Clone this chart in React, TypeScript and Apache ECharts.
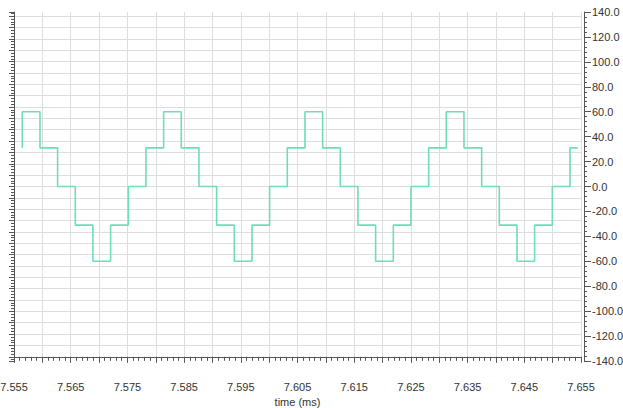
import React, { useEffect, useRef } from "react";
import * as echarts from "echarts";

// Sample-and-hold waveform: each sample time starts a new held level (ms, value)
const sampleTimes = [
  7.55646, 7.55646, 7.55958, 7.56269, 7.56581, 7.56892, 7.57204, 7.57516, 7.57827,
  7.58139, 7.5845, 7.58762, 7.59074, 7.59385, 7.59697, 7.60008, 7.6032,
  7.60632, 7.60943, 7.61255, 7.61566, 7.61878, 7.6219, 7.62501, 7.62813,
  7.63124, 7.63436, 7.63748, 7.64059, 7.64371, 7.64682, 7.64994, 7.65306,
  7.65442,
];
const sampleValues = [
  31, 60, 31, 0, -31, -60, -31, 0, 31,
  60, 31, 0, -31, -60, -31, 0, 31,
  60, 31, 0, -31, -60, -31, 0, 31,
  60, 31, 0, -31, -60, -31, 0, 31,
  31,
];

// Axis ranges and tick spacing
const timeRange = [7.555, 7.655];
const timeTickStep = 0.005;
const valueRange = [-140, 140];
const valueTickStep = 20;
// Unlabelled left ruler that carries the horizontal grid
const rulerRange = [-0.37, 30.37];
const rulerTickStep = 1;

const axisColor = "#555";
const textColor = "#333";
const gridColor = "#dedede";
const fontFamily = "'Liberation Sans', Arial, sans-serif";

export default function App() {
  const ref = useRef<HTMLDivElement>(null);

  useEffect(() => {
    if (!ref.current) return;
    const chart = echarts.init(ref.current, null, { renderer: "svg" });
    const data = sampleTimes.map((t, i) => [t, sampleValues[i]]);

    chart.setOption({
      animation: false,
      backgroundColor: "#fff",
      textStyle: { fontFamily },
      grid: {
        left: 14,
        right: 42,
        top: 12,
        bottom: 47,
        containLabel: false,
        outerBoundsMode: "none",
      },
      xAxis: {
        type: "value",
        min: timeRange[0],
        max: timeRange[1],
        interval: timeTickStep,
        position: "bottom",
        offset: 7,
        name: "time (ms)",
        nameLocation: "middle",
        nameGap: 28,
        nameTextStyle: { color: textColor, fontSize: 11, fontFamily },
        axisLine: { show: true, lineStyle: { color: axisColor, width: 1 } },
        axisTick: { show: true, inside: false, length: 6, lineStyle: { color: axisColor } },
        minorTick: { show: true, splitNumber: 5, length: 4, lineStyle: { color: axisColor } },
        axisLabel: {
          color: textColor,
          fontSize: 11,
          fontFamily,
          margin: 13,
          formatter: (v: number) =>
            Math.round(v * 1000) % 10 === 5 ? v.toFixed(3) : "",
        },
        splitLine: { show: true, lineStyle: { color: gridColor, width: 1 } },
      },
      yAxis: [
        {
          type: "value",
          position: "left",
          min: rulerRange[0],
          max: rulerRange[1],
          splitNumber: 30,
          minInterval: rulerTickStep,
          maxInterval: rulerTickStep,
          offset: 0,
          axisLine: { show: true, lineStyle: { color: axisColor, width: 1 } },
          axisTick: { show: true, inside: false, length: 5, lineStyle: { color: axisColor } },
          minorTick: { show: true, splitNumber: 4, length: 3, lineStyle: { color: axisColor } },
          axisLabel: { show: false },
          splitLine: {
            show: true,
            showMinLine: false,
            showMaxLine: false,
            lineStyle: { color: gridColor, width: 1 },
          },
        },
        {
          type: "value",
          position: "right",
          min: valueRange[0],
          max: valueRange[1],
          interval: valueTickStep,
          offset: 3,
          axisLine: { show: true, lineStyle: { color: axisColor, width: 1 } },
          axisTick: { show: true, inside: false, length: 7, lineStyle: { color: axisColor } },
          minorTick: { show: true, splitNumber: 5, length: 3, lineStyle: { color: axisColor } },
          axisLabel: {
            color: textColor,
            fontSize: 11,
            fontFamily,
            margin: 8,
            formatter: (v: number) => v.toFixed(1),
          },
          splitLine: { show: false },
        },
      ],
      series: [
        {
          type: "line",
          xAxisIndex: 0,
          yAxisIndex: 1,
          step: "end",
          data,
          showSymbol: false,
          symbol: "none",
          silent: true,
          lineStyle: { color: "#70dcb8", width: 1.6 },
        },
      ],
    });

    return () => chart.dispose();
  }, []);

  return (
    <div
      ref={ref}
      style={{
        position: "fixed",
        left: 0,
        top: 0,
        width: 623,
        height: 408,
        background: "#fff",
      }}
    />
  );
}
